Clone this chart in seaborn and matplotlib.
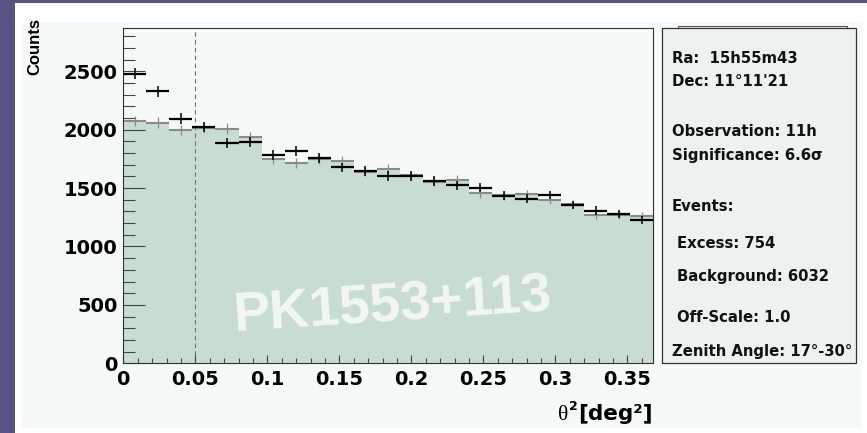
import numpy as np
import pandas as pd
import matplotlib
matplotlib.use("Agg")
import matplotlib.pyplot as plt
import seaborn as sns
from matplotlib.patches import Rectangle
from matplotlib.ticker import MultipleLocator, FixedLocator, FixedFormatter

# ---- data -------------------------------------------------------------
bin_width = 0.016          # deg^2
n_bins = 23
on_counts = [2480, 2330, 2095, 2025, 1883, 1897, 1781, 1820, 1760, 1678,
             1646, 1604, 1604, 1561, 1524, 1501, 1435, 1409, 1441, 1355,
             1307, 1276, 1227]
off_counts = [2075, 2060, 1995, 2015, 2010, 1940, 1747, 1715, 1750, 1732,
              1640, 1662, 1610, 1555, 1569, 1455, 1440, 1447, 1398, 1365,
              1270, 1268, 1261]
x_ticks = [0, 0.05, 0.1, 0.15, 0.2, 0.25, 0.3, 0.35]
x_tick_labels = ["0", "0.05", "0.1", "0.15", "0.2", "0.25", "0.3", "0.35"]
y_ticks = [0, 500, 1000, 1500, 2000, 2500]
y_tick_labels = ["0", "500", "1000", "1500", "2000", "2500"]
theta2_cut = 0.05
source_name = "PK1553+113"
info_lines = [
    ("Ra:  15h55m43", 0),
    ("Dec: 11°11'21", 0),
    ("Observation: 11h", 0),
    ("Significance: 6.6σ", 0),
    ("Events:", 0),
    ("Excess: 754", 5),
    ("Background: 6032", 5),
    ("Off-Scale: 1.0", 5),
    ("Zenith Angle: 17°-30°", 0),
]
info_baselines = [62.8, 86.2, 135.5, 160.0, 211.0, 247.5, 280.5, 322.0, 356.0]

# ---- style ------------------------------------------------------------
W, H = 867, 433
purple = "#565383"
pad_color = "#f6faf6"
fill_color = "#c9dcd1"
off_color = "#8a8a8a"
frame_color = "#333333"

sns.set_theme(style="ticks")
plt.rcParams["font.family"] = ["DejaVu Sans"]
plt.rcParams["text.color"] = "black"

fig = plt.figure(figsize=(W / 100, H / 100), dpi=100, facecolor="white")


def fx(px):
    return px / W


def fy(py):
    return 1 - py / H


def frect(x0, y0, x1, y1, **kw):
    r = Rectangle((fx(x0), fy(y1)), (x1 - x0) / W, (y1 - y0) / H,
                  transform=fig.transFigure, **kw)
    fig.patches.append(r)
    return r


# canvas border and pad
frect(0, 0, 15, H, facecolor=purple, edgecolor="none", zorder=-2)
frect(0, 0, W, 3.3, facecolor=purple, edgecolor="none", zorder=-2)
frect(22, 22, 862, 428, facecolor=pad_color, edgecolor="none", zorder=-2)

# ---- histogram axes ---------------------------------------------------
ax_l, ax_r, ax_t, ax_b = 123.3, 653.3, 28.3, 363.3
ax = fig.add_axes([fx(ax_l), fy(ax_b), (ax_r - ax_l) / W, (ax_b - ax_t) / H])
ax.set_zorder(1)
ax.set_facecolor(pad_color)
ax.set_axisbelow(False)

x_max = n_bins * bin_width
centers = (np.arange(n_bins) + 0.5) * bin_width
df = pd.DataFrame({"theta2": centers, "on": on_counts, "off": off_counts})

sns.histplot(data=df, x="theta2", weights="off", bins=n_bins,
             binrange=(0, x_max), element="step", fill=True,
             color=fill_color, alpha=1, linewidth=0, ax=ax, zorder=1)

on = df["on"].to_numpy(float)
off = df["off"].to_numpy(float)

# background (off) crosses
ax.errorbar(df["theta2"], off, xerr=bin_width / 2, fmt="none",
            ecolor=off_color, elinewidth=1.5, zorder=3)
ax.errorbar(df["theta2"], off, yerr=np.sqrt(off), fmt="none",
            ecolor=off_color, elinewidth=0.9, zorder=3)
# on-source crosses
ax.errorbar(df["theta2"], on, xerr=bin_width / 2, fmt="none",
            ecolor="black", elinewidth=1.6, zorder=4)
ax.errorbar(df["theta2"], on, yerr=np.sqrt(on), fmt="none",
            ecolor="black", elinewidth=1.1, zorder=4)

ax.axvline(theta2_cut, color="#6f6f6f", lw=0.8, ls=(0, (4, 3)), zorder=2)

ax.set_xlim(0, x_max)
ax.set_ylim(0, 2868)
ax.set_xlabel("")
ax.set_ylabel("")

ax.xaxis.set_major_locator(FixedLocator(x_ticks))
ax.xaxis.set_major_formatter(FixedFormatter(x_tick_labels))
ax.xaxis.set_minor_locator(MultipleLocator(0.01))
ax.yaxis.set_major_locator(FixedLocator(y_ticks))
ax.yaxis.set_major_formatter(FixedFormatter(y_tick_labels))
ax.yaxis.set_minor_locator(MultipleLocator(100))

ax.tick_params(axis="y", which="major", direction="in", length=15.8,
               width=0.8, color="#444444", pad=4.3, labelcolor="black")
ax.tick_params(axis="y", which="minor", direction="in", length=8.4,
               width=0.8, color="#444444")
ax.tick_params(axis="x", which="major", direction="in", length=5.8,
               width=0.8, color="#444444", pad=4.5, labelcolor="black")
ax.tick_params(axis="x", which="minor", direction="in", length=3.4,
               width=0.8, color="#444444")
for lab in ax.get_xticklabels() + ax.get_yticklabels():
    lab.set_fontsize(14)
    lab.set_fontweight("bold")
    lab.set_color("black")

for sp in ax.spines.values():
    sp.set_color(frame_color)
    sp.set_linewidth(0.8)
    sp.set_zorder(5)

# source name across the histogram
ax.text(fx(234), fy(331.7), source_name, transform=fig.transFigure,
        family=["Liberation Sans", "DejaVu Sans"], fontweight="bold",
        fontsize=39.5, color="#f2f7f2", rotation=3.8, rotation_mode="anchor",
        ha="left", va="baseline", zorder=2)

# axis titles
fig.text(fx(35), fy(46.5), "Counts", rotation=90, ha="center", va="center",
         family=["Liberation Sans Narrow", "Liberation Sans", "DejaVu Sans"],
         fontweight="bold", fontsize=12, color="black")

xl_unit = fig.text(fx(653), fy(420), "[deg²]", ha="right", va="baseline",
                   fontweight="bold", fontsize=15.5, color="black")
fig.canvas.draw()
bb = xl_unit.get_window_extent(fig.canvas.get_renderer())
fig.text(bb.x0 / W - 10 / W, fy(420), "θ", ha="right", va="baseline",
         family=["Liberation Serif", "DejaVu Serif"], fontsize=15.5,
         color="black")
fig.text(bb.x0 / W - 9 / W, fy(410.5), "2", ha="left", va="baseline",
         fontweight="bold", fontsize=9, color="black")

# ---- info panel -------------------------------------------------------
frect(678, 26.5, 847, 45, facecolor="#eef1f1", edgecolor="#555555",
      linewidth=0.8, zorder=2)
frect(661.7, 28.3, 855.5, 363.3, facecolor="#eef1f1", edgecolor="#333333",
      linewidth=0.9, zorder=3)
for (txt, indent), base in zip(info_lines, info_baselines):
    fig.text(fx(671.7 + indent), fy(base), txt, ha="left", va="baseline",
             fontweight="bold", fontsize=10.7, color="#111111", zorder=4)

fig.savefig("out.png", dpi=100, facecolor=fig.get_facecolor())
